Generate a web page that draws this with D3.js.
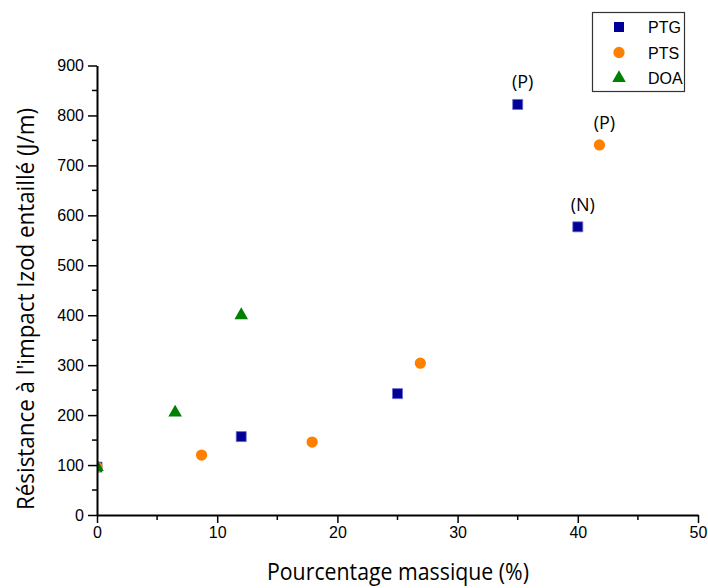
<!DOCTYPE html>
<html><head><meta charset="utf-8">
<script src="https://cdn.jsdelivr.net/npm/d3@7"></script>
<style>body{margin:0;background:#fff}svg{display:block}</style>
</head><body>
<script>
// Data
const ptgX = [0, 12, 25, 35, 40];
const ptgY = [96, 157, 243, 822, 577];
const ptsX = [0, 8.7, 17.9, 26.9, 41.8];
const ptsY = [96, 120, 146, 304, 741];
const doaX = [0, 6.5, 12];
const doaY = [96, 205, 400];
const annotations = [
  {x: 35, y: 822, text: "(P)"},
  {x: 41.8, y: 741, text: "(P)"},
  {x: 40, y: 577, text: "(N)"}
];
const xTicks = [0, 10, 20, 30, 40, 50];
const yTicks = [0, 100, 200, 300, 400, 500, 600, 700, 800, 900];
const seriesNames = ["PTG", "PTS", "DOA"];
const colors = {PTG: "#000096", PTS: "#ff8000", DOA: "#008000"};

const W = 708, H = 588;
const svg = d3.select("body").append("svg").attr("width", W).attr("height", H);
const x = d3.scaleLinear().domain([0, 50]).range([97, 698]);
const y = d3.scaleLinear().domain([0, 900]).range([515, 65.5]);

const tickFont = "'Liberation Sans', Arial, sans-serif";
const titleFont = "'Open Sans', 'Noto Sans', sans-serif";

svg.append("defs").append("clipPath").attr("id", "plotclip").append("rect")
  .attr("x", x(0)).attr("y", 0).attr("width", x(50) - x(0) + 10).attr("height", y(0));

// minor ticks
svg.append("g").selectAll("line").data(d3.range(5, 50, 10)).join("line")
  .attr("x1", d => x(d)).attr("x2", d => x(d)).attr("y1", y(0)).attr("y2", y(0) + 5)
  .attr("stroke", "#000").attr("stroke-width", 1.5);
svg.append("g").selectAll("line").data(d3.range(50, 900, 100)).join("line")
  .attr("y1", d => y(d)).attr("y2", d => y(d)).attr("x1", x(0)).attr("x2", x(0) - 5)
  .attr("stroke", "#000").attr("stroke-width", 1.5);

// markers (clipped to plot area like the original)
const sq = d3.symbol().type(d3.symbolSquare).size(100);
const ci = d3.symbol().type(d3.symbolCircle).size(100);
const tr = d3.symbol().type(d3.symbolTriangle).size(80);

const pts = ptsX.map((v, i) => ({x: v, y: ptsY[i]}));
const ptg = ptgX.map((v, i) => ({x: v, y: ptgY[i]}));
const doa = doaX.map((v, i) => ({x: v, y: doaY[i]}));

const mk = svg.append("g").attr("clip-path", "url(#plotclip)");
mk.append("g").selectAll("path").data(ptg).join("path")
  .attr("d", sq).attr("transform", d => `translate(${x(d.x)},${y(d.y)})`)
  .attr("fill", colors.PTG).attr("stroke", "#6a6ad0").attr("stroke-width", 0.8);
mk.append("g").selectAll("path").data(pts).join("path")
  .attr("d", ci).attr("transform", d => `translate(${x(d.x)},${y(d.y)})`)
  .attr("fill", colors.PTS);
mk.append("g").selectAll("path").data(doa).join("path")
  .attr("d", tr).attr("transform", d => `translate(${x(d.x)},${y(d.y)})`)
  .attr("fill", colors.DOA);

const xAxis = svg.append("g").attr("transform", `translate(0,${y(0)})`)
  .call(d3.axisBottom(x).tickValues(xTicks).tickSize(8).tickSizeOuter(0).tickPadding(4));
const yAxis = svg.append("g").attr("transform", `translate(${x(0)},0)`)
  .call(d3.axisLeft(y).tickValues(yTicks).tickSize(9).tickSizeOuter(0).tickPadding(4));
[xAxis, yAxis].forEach(a => {
  a.select(".domain").attr("stroke", "#000").attr("stroke-width", 2);
  a.selectAll(".tick line").attr("stroke", "#000").attr("stroke-width", 1.5);
  a.selectAll(".tick text").attr("font-family", tickFont).attr("font-size", 16).attr("fill", "#000");
});

// titles
svg.append("text").attr("x", 398).attr("y", 580).attr("text-anchor", "middle")
  .attr("font-family", titleFont).attr("font-size", 24).attr("fill", "#000")
  .attr("textLength", 262).attr("lengthAdjust", "spacingAndGlyphs")
  .text("Pourcentage massique (%)");
svg.append("text").attr("transform", "translate(34,309) rotate(-90)").attr("text-anchor", "middle")
  .attr("font-family", titleFont).attr("font-size", 24).attr("fill", "#000")
  .attr("textLength", 402).attr("lengthAdjust", "spacingAndGlyphs")
  .text("Résistance à l'impact Izod entaillé (J/m)");

// annotations
svg.append("g").selectAll("text").data(annotations).join("text")
  .attr("x", d => x(d.x) + 5).attr("y", d => y(d.y) - 16)
  .attr("text-anchor", "middle").attr("font-family", titleFont).attr("font-size", 18)
  .attr("fill", "#000").text(d => d.text);

// legend
const lg = svg.append("g");
lg.append("rect").attr("x", 592.5).attr("y", 12.5).attr("width", 92).attr("height", 79)
  .attr("fill", "#fff").attr("stroke", "#333").attr("stroke-width", 1.2);
const legendSym = {PTG: sq, PTS: ci, DOA: tr};
seriesNames.forEach((n, i) => {
  const cy = 27 + i * 25.5;
  lg.append("path").attr("d", legendSym[n]).attr("transform", `translate(619,${cy})`).attr("fill", colors[n]);
  lg.append("text").attr("x", 648).attr("y", cy + 6).attr("font-family", tickFont)
    .attr("font-size", 16).attr("fill", "#000").text(n);
});
</script>
</body></html>
